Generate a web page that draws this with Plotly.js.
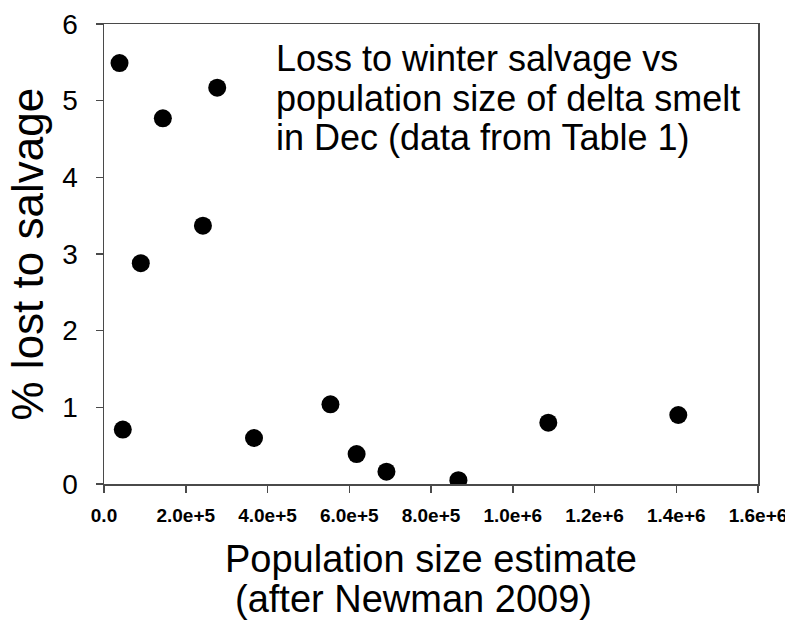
<!DOCTYPE html>
<html>
<head>
<meta charset="utf-8">
<script src="https://cdn.plot.ly/plotly-3.0.1.min.js"></script>
<style>
  html, body { margin: 0; padding: 0; background: #ffffff; }
  #chart { width: 785px; height: 621px; }
</style>
</head>
<body>
<div id="chart"></div>
<script>
// Population size estimate (Dec) and % lost to winter salvage
const populationSize = [38000, 46000, 90000, 144000, 242000, 277000, 367000, 554000, 618000, 691000, 867000, 1087000, 1405000];
const percentLost    = [5.49, 0.71, 2.88, 4.77, 3.37, 5.17, 0.60, 1.04, 0.39, 0.16, 0.05, 0.80, 0.90];

const xTickVals  = [0, 200000, 400000, 600000, 800000, 1000000, 1200000, 1400000, 1600000];
const xTickText  = ["0.0", "2.0e+5", "4.0e+5", "6.0e+5", "8.0e+5", "1.0e+6", "1.2e+6", "1.4e+6", "1.6e+6"];
const yTickVals  = [0, 1, 2, 3, 4, 5, 6];

const noteLines = ["Loss to winter salvage vs", "population size of delta smelt", "in Dec (data from Table 1)"];
const xTitleLines = ["Population size estimate", "(after Newman 2009)"];
const yTitle = "% lost to salvage";

const FONT = "Liberation Sans, Arial, sans-serif";
const AXIS_COLOR = "#4a4a4a";

const trace = {
  x: populationSize,
  y: percentLost,
  type: "scatter",
  mode: "markers",
  marker: { color: "#000000", size: 18, line: { width: 0 } },
  hoverinfo: "x+y"
};

const noteY = [0.924, 0.837, 0.754];
const annotations = noteLines.map((t, i) => ({
  text: t, xref: "paper", yref: "paper", x: 0.26, y: noteY[i],
  xanchor: "left", yanchor: "middle", showarrow: false,
  font: { family: FONT, size: 36, color: "#000000" }
}));
annotations.push({
  text: xTitleLines[0], xref: "paper", yref: "paper", x: 0.5, y: -0.163,
  xanchor: "center", yanchor: "middle", showarrow: false,
  font: { family: FONT, size: 38, color: "#000000" }
});
annotations.push({
  text: xTitleLines[1], xref: "paper", yref: "paper", x: 0.474, y: -0.25,
  xanchor: "center", yanchor: "middle", showarrow: false,
  font: { family: FONT, size: 38, color: "#000000" }
});
annotations.push({
  text: yTitle, xref: "paper", yref: "paper", x: -0.117, y: 0.5,
  xanchor: "center", yanchor: "middle", textangle: -90, showarrow: false,
  font: { family: FONT, size: 44, color: "#000000" }
});

const layout = {
  width: 785, height: 621,
  margin: { l: 104, r: 27, t: 24, b: 137 },
  paper_bgcolor: "#ffffff", plot_bgcolor: "#ffffff",
  showlegend: false,
  font: { family: FONT, color: "#000000" },
  xaxis: {
    range: [0, 1600000],
    tickmode: "array", tickvals: xTickVals, ticktext: xTickText,
    ticks: "outside", ticklen: 7, tickwidth: 1.5, tickcolor: AXIS_COLOR,
    showline: true, linecolor: AXIS_COLOR, linewidth: 1.5, mirror: true,
    showgrid: false, zeroline: false,
    ticklabelstandoff: 7,
    ticklabeloverflow: "allow",
    tickfont: { family: FONT, size: 19, color: "#000000", weight: 700 }
  },
  yaxis: {
    range: [0, 6],
    tickmode: "array", tickvals: yTickVals,
    ticks: "outside", ticklen: 7, tickwidth: 1.5, tickcolor: AXIS_COLOR,
    showline: true, linecolor: AXIS_COLOR, linewidth: 1.5, mirror: true,
    showgrid: false, zeroline: false,
    ticklabelstandoff: 12,
    tickfont: { family: FONT, size: 28, color: "#000000" }
  },
  annotations: annotations
};

Plotly.newPlot("chart", [trace], layout, { displayModeBar: false, staticPlot: true });
</script>
</body>
</html>
